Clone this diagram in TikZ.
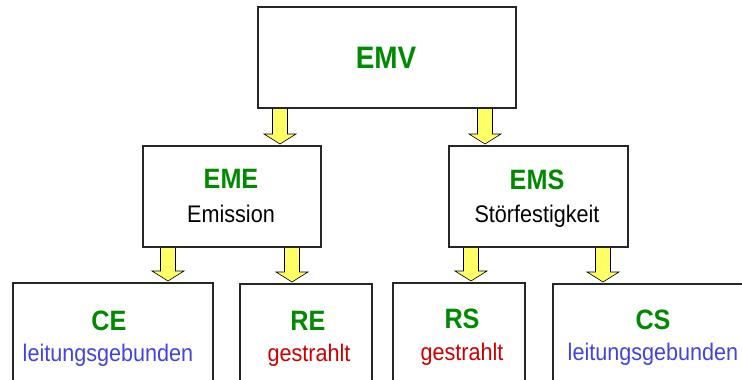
\documentclass[tikz,border=0pt]{standalone}
\usepackage{fontspec}
\setmainfont{Liberation Sans}[FakeStretch=0.9]
\definecolor{tgreen}{HTML}{008A00}
\definecolor{tblue}{HTML}{4444DD}
\definecolor{tred}{HTML}{CC0000}
\definecolor{ayellow}{HTML}{FFFF66}
\newcommand\yarr[3]{\draw[yarrow] ({#1-7.5},#2) -- ({#1+7.5},#2) -- ({#1+7.5},{#3-10}) -- ({#1+16},{#3-10}) -- (#1,#3) -- ({#1-16},{#3-10}) -- ({#1-7.5},{#3-10}) -- cycle;}
\begin{document}
\begin{tikzpicture}[x=1pt,y=-1pt,
  box/.style={draw=black!85,line width=1.6pt,fill=white,anchor=north west,inner sep=0pt},
  yarrow/.style={draw=black,line width=0.6pt,fill=ayellow},
  ttl/.style={anchor=base,font=\fontsize{28}{30}\selectfont\bfseries,text=tgreen,inner sep=0pt},
  sub/.style={anchor=base,font=\fontsize{24}{26}\selectfont,inner sep=0pt}]
\path[use as bounding box] (0,0) rectangle (742,380);
\clip (0,0) rectangle (742,380);
\fill[white] (0,0) rectangle (742,380);
% arrows
\yarr{280}{107}{144}
\yarr{485}{107}{144}
\yarr{168}{246}{281}
\yarr{292}{246}{282}
\yarr{471}{246}{281}
\yarr{603}{246}{282}
% boxes
\node[box,minimum width=258pt,minimum height=101pt] (emv) at (257,6) {};
\node[box,minimum width=178pt,minimum height=101pt] (eme) at (142,145) {};
\node[box,minimum width=179pt,minimum height=101pt] (ems) at (448,145) {};
\node[box,minimum width=200pt,minimum height=120pt] (ce) at (12,282) {};
\node[box,minimum width=132pt,minimum height=120pt] (re) at (239,283) {};
\node[box,minimum width=132pt,minimum height=120pt] (rs) at (392,282) {};
\node[box,minimum width=210pt,minimum height=120pt] (cs) at (552,283) {};
% texts
\node[ttl,font=\fontsize{31}{33}\selectfont\bfseries] (temv) at (386,68) {EMV};
\node[ttl] (teme) at (231,188) {EME};
\node[sub] (seme) at (231,222) {Emission};
\node[ttl] (tems) at (537,189) {EMS};
\node[sub] (sems) at (537,222) {Störfestigkeit};
\node[ttl] (tce) at (109,330) {CE};
\node[sub,text=tblue] (sce) at (108,361) {leitungsgebunden};
\node[ttl] (tre) at (308,330) {RE};
\node[sub,text=tred] (sre) at (309,361) {gestrahlt};
\node[ttl] (trs) at (462,328) {RS};
\node[sub,text=tred] (srs) at (462,360) {gestrahlt};
\node[ttl] (tcs) at (653,329) {CS};
\node[sub,text=tblue] (scs) at (653,360) {leitungsgebunden};
\end{tikzpicture}
\end{document}
